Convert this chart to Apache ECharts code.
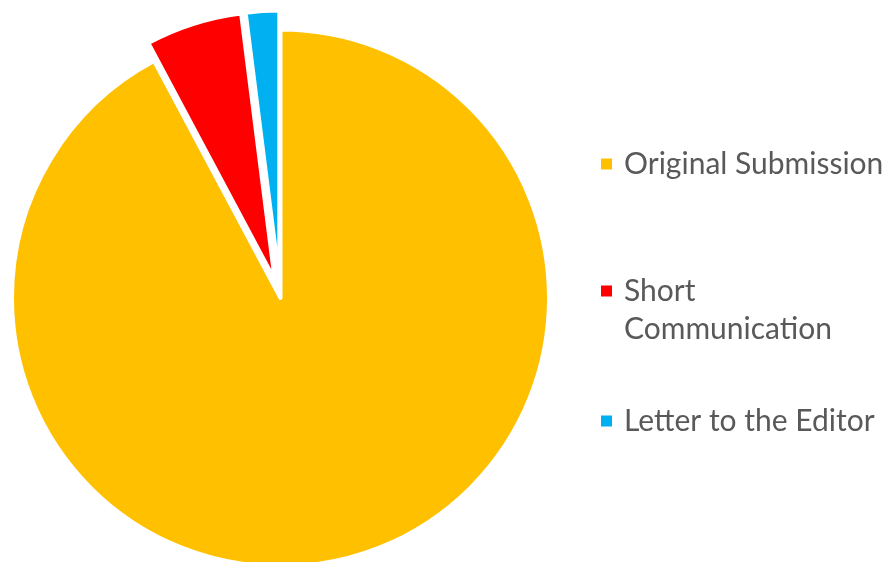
<!DOCTYPE html>
<html>
<head>
<meta charset="utf-8">
<script src="https://cdn.jsdelivr.net/npm/echarts@6/dist/echarts.min.js"></script>
<style>
  html, body { margin: 0; padding: 0; background: #fff; }
  #chart { width: 883px; height: 562px; }
</style>
</head>
<body>
<div id="chart"></div>
<script>
// share of article types (percent)
const categories = ['Original Submission', 'Short Communication', 'Letter to the Editor']
const values = [92.2, 5.8, 2.0]
const colors = ['#FFC000', '#FF0000', '#00B0F0']
const exploded = [false, true, true]

const chart = echarts.init(document.getElementById('chart'))

const legendText = {
  fontFamily: 'Lato',
  fontSize: 30,
  lineHeight: 38,
  color: '#595959',
  padding: [0, 0, 0, 7]
}

// one legend per entry so each row sits where it does in the original
function legendFor (name, top, label) {
  return {
    data: [name],
    orient: 'vertical',
    left: 601,
    top: top,
    padding: 0,
    icon: 'rect',
    itemWidth: 11,
    itemHeight: 11,
    itemStyle: { borderWidth: 0 },
    selectedMode: false,
    formatter: () => label,
    textStyle: legendText
  }
}

var option = {
  animation: false,
  color: colors,
  legend: [
    legendFor(categories[0], 145, categories[0]),
    // empty first line keeps the marker level with "Short"
    legendFor(categories[1], 234, '\nShort\nCommunication'),
    legendFor(categories[2], 402, categories[2])
  ],
  series: [
    {
      type: 'pie',
      center: [280.5, 298],
      radius: 268.5,
      startAngle: 90,
      clockwise: true,
      selectedMode: 'multiple',
      selectedOffset: 19,
      label: { show: false },
      labelLine: { show: false },
      emphasis: { disabled: true },
      itemStyle: { borderColor: '#ffffff', borderWidth: 4 },
      data: categories.map((name, i) => ({
        name: name,
        value: values[i],
        selected: exploded[i]
      }))
    }
  ]
}

chart.setOption(option)
</script>
</body>
</html>
